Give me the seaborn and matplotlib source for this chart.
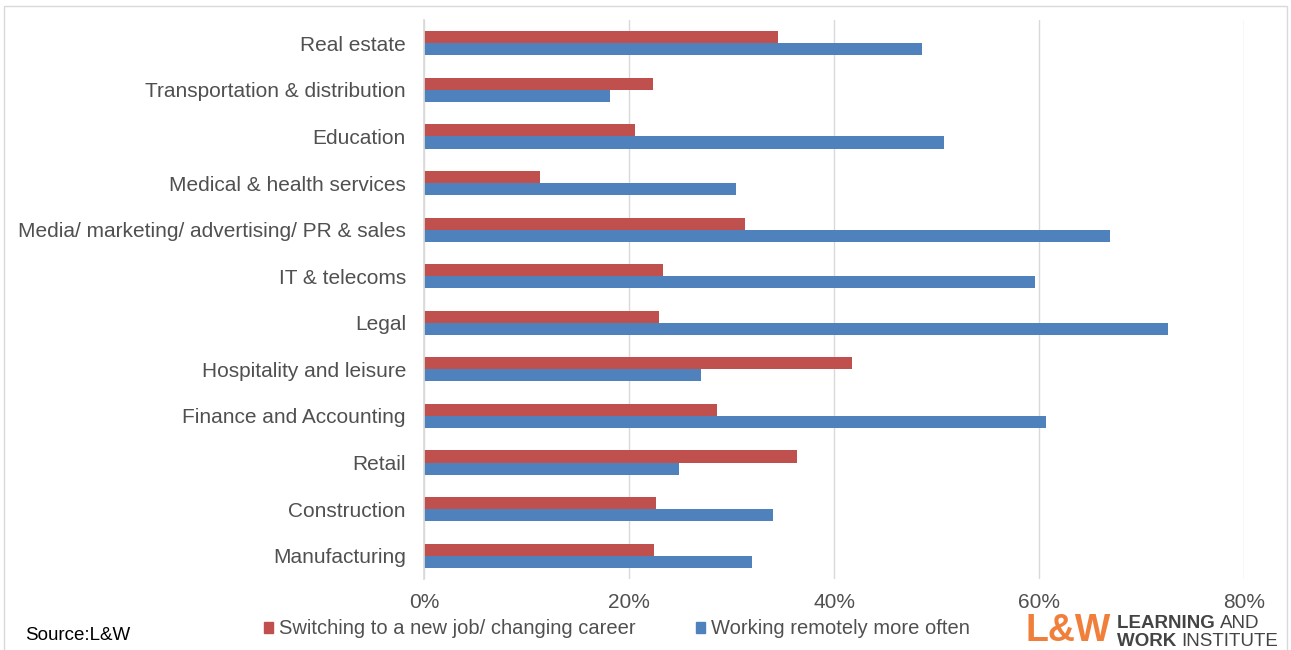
import matplotlib
matplotlib.use("Agg")
import matplotlib.pyplot as plt
import matplotlib.patches as mpatches
from matplotlib.ticker import PercentFormatter
import seaborn as sns
import pandas as pd

sectors = [
    "Real estate",
    "Transportation & distribution",
    "Education",
    "Medical & health services",
    "Media/ marketing/ advertising/ PR & sales",
    "IT & telecoms",
    "Legal",
    "Hospitality and leisure",
    "Finance and Accounting",
    "Retail",
    "Construction",
    "Manufacturing",
]
switching_job = [34.5, 22.3, 20.6, 11.3, 31.3, 23.3, 22.9, 41.8, 28.6, 36.4, 22.6, 22.4]
working_remotely = [48.6, 18.1, 50.7, 30.4, 66.9, 59.6, 72.6, 27.0, 60.7, 24.9, 34.0, 32.0]
series_names = ["Switching to a new job/ changing career", "Working remotely more often"]
x_ticks = [0, 20, 40, 60, 80]

df = pd.DataFrame({
    "sector": sectors * 2,
    "series": [series_names[0]] * len(sectors) + [series_names[1]] * len(sectors),
    "value": switching_job + working_remotely,
})

sns.set_theme(style="white")
plt.rcParams["font.family"] = ["Liberation Sans", "DejaVu Sans"]
text_col = "#505050"
colors = ["#C0504D", "#4F81BD"]

fig = plt.figure(figsize=(12.91, 6.5), dpi=100)
ax = fig.add_axes([424 / 1291, 1 - 579 / 650, (1244 - 424) / 1291, (579 - 20) / 650])

sns.barplot(
    data=df, y="sector", x="value", hue="series", orient="h",
    order=sectors, hue_order=series_names,
    palette=colors, width=0.52, ax=ax, legend=False,
    saturation=1, linewidth=0, edgecolor="none",
)

ax.set_xlim(0, 80)
ax.set_xticks(x_ticks)
ax.xaxis.set_major_formatter(PercentFormatter(decimals=0))
ax.set_xlabel("")
ax.set_ylabel("")
ax.grid(axis="x", color="#D9D9D9", linewidth=1)
ax.set_axisbelow(True)
for s in ["top", "right", "bottom"]:
    ax.spines[s].set_visible(False)
ax.spines["left"].set_color("#D9D9D9")
ax.tick_params(axis="both", length=0, labelsize=15, colors=text_col)
ax.tick_params(axis="y", pad=13)
ax.tick_params(axis="x", pad=10)

handles = [mpatches.Patch(color=c) for c in colors]
fig.legend(handles, series_names, loc="center", bbox_to_anchor=(617 / 1291, 1 - 629 / 650),
           ncol=2, frameon=False, fontsize=14.5, handlelength=0.45, handleheight=0.45,
           handletextpad=0.3, columnspacing=3.0, labelcolor=text_col)

fig.text(25 / 1291, 1 - 636 / 650, "Source:L&W", fontsize=13.5, color="#000000", va="center")

# Institute logo
fig.text(1025 / 1291, 1 - 631 / 650, "L&W", fontsize=27, fontweight="bold", color="#F07F3C",
         va="center", ha="left")

renderer = fig.canvas.get_renderer()


def logo_line(y_px, bold_word, plain_word):
    t1 = fig.text(1117 / 1291, 1 - y_px / 650, bold_word + " ", fontsize=13.5, fontweight="bold",
                  color="#444444", va="center", ha="left")
    bb = t1.get_window_extent(renderer=renderer)
    fig.text(bb.x1 / fig.bbox.width, 1 - y_px / 650, plain_word, fontsize=13.5,
             color="#444444", va="center", ha="left")


logo_line(624, "LEARNING", "AND")
logo_line(641, "WORK", "INSTITUTE")

fig.patches.append(mpatches.Rectangle((4 / 1291, -0.01), 1283 / 1291, 1 - 6 / 650 + 0.01,
                                      transform=fig.transFigure, fill=False,
                                      edgecolor="#D9D9D9", linewidth=1))

fig.savefig("out.png", dpi=100)
